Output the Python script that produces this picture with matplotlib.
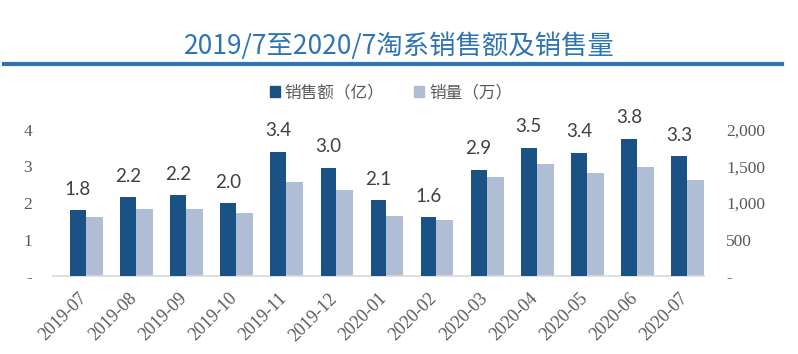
import matplotlib
matplotlib.use("Agg")
import matplotlib.pyplot as plt
from matplotlib.lines import Line2D
import numpy as np

months = ["2019-07", "2019-08", "2019-09", "2019-10", "2019-11", "2019-12",
          "2020-01", "2020-02", "2020-03", "2020-04", "2020-05", "2020-06", "2020-07"]
sales_amount = [1.80, 2.16, 2.21, 1.99, 3.41, 2.96, 2.07, 1.61, 2.91, 3.51, 3.38, 3.76, 3.28]
sales_volume = [804, 913, 922, 858, 1281, 1181, 827, 763, 1362, 1535, 1413, 1499, 1317]
left_ticks = [0, 1, 2, 3, 4]
left_ticklabels = ["-", "1", "2", "3", "4"]
right_ticks = [0, 500, 1000, 1500, 2000]
right_ticklabels = ["-", "500", "1,000", "1,500", "2,000"]

dark = "#1a5286"
light = "#afbdd5"
gray = "#595959"
title_blue = "#2e74b5"

plt.rcParams['font.family'] = ['Noto Sans CJK SC', 'DejaVu Sans']

fig = plt.figure(figsize=(7.98, 3.54), dpi=100)
W, H = 798, 354
ax = fig.add_axes([53 / W, 1 - 276 / H, (704 - 53) / W, (276 - 130) / H])
ax2 = ax.twinx()

x = np.arange(len(months))
wd = 0.314
wl = 0.34
ax.bar(x, sales_amount, width=wd, color=dark, zorder=3, label="销售额（亿）")
ax2.bar(x + wd / 2, sales_volume, width=wl, align='edge', color=light, zorder=2, label="销量（万）")

ax.set_xlim(-0.5, len(months) - 0.5)
ax.set_ylim(0, 4)
ax2.set_ylim(0, 2000)

ax.set_zorder(ax2.get_zorder() + 1)
ax.patch.set_visible(False)

for a in (ax, ax2):
    for s in a.spines.values():
        s.set_visible(False)
ax.spines['bottom'].set_visible(True)
ax.spines['bottom'].set_color("#d9d9d9")
ax.spines['bottom'].set_linewidth(1.2)

serif = "Liberation Serif"
ax.set_yticks(left_ticks)
ax.set_yticklabels(left_ticklabels, family=serif, fontsize=12.5, color=gray)
ax.tick_params(axis='y', length=0, pad=15)
ax2.set_yticks(right_ticks)
ax2.set_yticklabels(right_ticklabels, family=serif, fontsize=12.5, color=gray)
ax2.tick_params(axis='y', length=0, pad=16)

ax.set_xticks(x)
ax.set_xticklabels(months, family=serif, fontsize=13, color=gray, rotation=45,
                   ha='right', rotation_mode='anchor')
ax.tick_params(axis='x', length=0, pad=10)

for xi, v in zip(x, sales_amount):
    ax.annotate(f"{v:.1f}", (xi, v), xytext=(0, 9), textcoords='offset points',
                ha='center', va='bottom', family='Lato', fontsize=13.5,
                color="#404040", annotation_clip=False)

# Title and rule
fig.text(399 / W, 1 - 46 / H, "2019/7至2020/7淘系销售额及销售量", ha='center', va='center',
         fontsize=19, color=title_blue)
fig.add_artist(Line2D([4 / W, 782 / W], [1 - 64 / H, 1 - 64 / H], color=title_blue,
                      linewidth=3, transform=fig.transFigure))

# Legend
handles = [plt.Rectangle((0, 0), 1, 1, color=dark), plt.Rectangle((0, 0), 1, 1, color=light)]
leg = fig.legend(handles, ["销售额（亿）", "销量（万）"], loc='center',
                 bbox_to_anchor=(391 / W, 1 - 93 / H), ncol=2, frameon=False,
                 fontsize=12, handlelength=0.6, handleheight=0.6, handletextpad=0.3,
                 columnspacing=1.8)
for t in leg.get_texts():
    t.set_color(gray)

fig.savefig("out.png", dpi=100)
